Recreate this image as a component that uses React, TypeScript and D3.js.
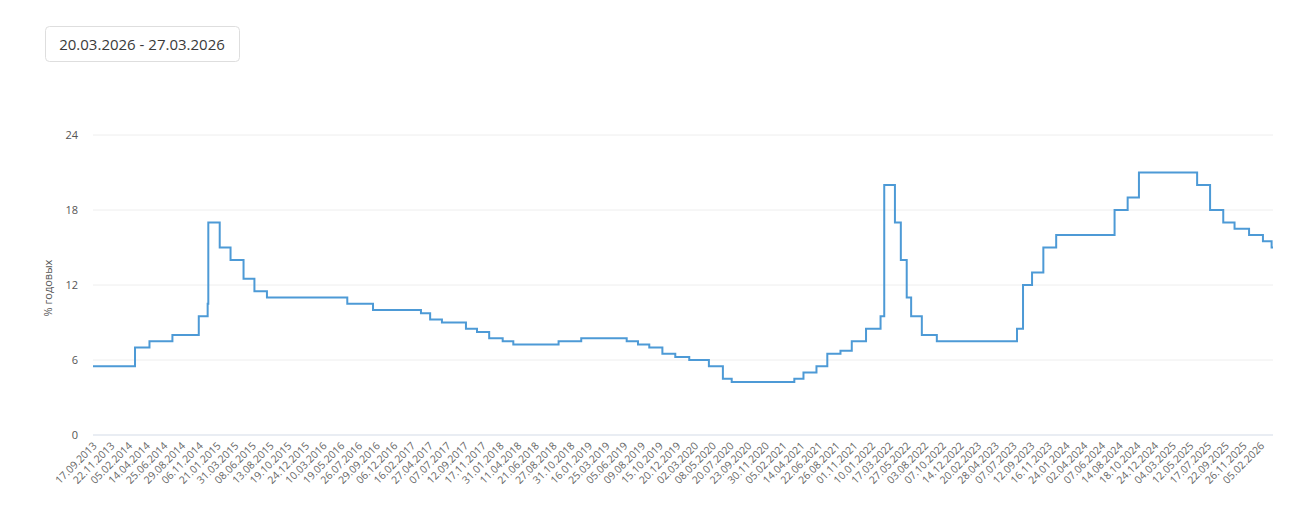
import React from "react";
import * as d3 from "d3";

// ---- Data ----
const rangeLabel = "20.03.2026 - 27.03.2026";
const yTitle = "% годовых";
const yTicks = [0, 6, 12, 18, 24];

const tickLabels = [
  "17.09.2013", "22.11.2013", "05.02.2014", "14.04.2014", "25.06.2014", "29.08.2014", "06.11.2014",
  "21.01.2015", "31.03.2015", "08.06.2015", "13.08.2015", "19.10.2015", "24.12.2015", "10.03.2016",
  "19.05.2016", "26.07.2016", "29.09.2016", "06.12.2016", "16.02.2017", "27.04.2017", "07.07.2017",
  "12.09.2017", "17.11.2017", "31.01.2018", "11.04.2018", "21.06.2018", "27.08.2018", "31.10.2018",
  "16.01.2019", "25.03.2019", "05.06.2019", "09.08.2019", "15.10.2019", "20.12.2019", "02.03.2020",
  "08.05.2020", "20.07.2020", "23.09.2020", "30.11.2020", "05.02.2021", "14.04.2021", "22.06.2021",
  "26.08.2021", "01.11.2021", "10.01.2022", "17.03.2022", "27.05.2022", "03.08.2022", "07.10.2022",
  "14.12.2022", "20.02.2023", "28.04.2023", "07.07.2023", "12.09.2023", "16.11.2023", "24.01.2024",
  "02.04.2024", "07.06.2024", "14.08.2024", "18.10.2024", "24.12.2024", "04.03.2025", "12.05.2025",
  "17.07.2025", "22.09.2025", "26.11.2025", "05.02.2026",
];

const changeDates = [
  "17.09.2013", "03.03.2014", "28.04.2014", "28.07.2014", "05.11.2014", "12.12.2014", "16.12.2014",
  "02.02.2015", "16.03.2015", "05.05.2015", "16.06.2015", "03.08.2015", "14.06.2016", "19.09.2016",
  "27.03.2017", "02.05.2017", "19.06.2017", "18.09.2017", "30.10.2017", "18.12.2017", "12.02.2018",
  "26.03.2018", "17.09.2018", "17.12.2018", "17.06.2019", "29.07.2019", "09.09.2019", "28.10.2019",
  "16.12.2019", "10.02.2020", "27.04.2020", "22.06.2020", "27.07.2020", "22.03.2021", "26.04.2021",
  "15.06.2021", "26.07.2021", "13.09.2021", "25.10.2021", "20.12.2021", "14.02.2022", "28.02.2022",
  "11.04.2022", "04.05.2022", "27.05.2022", "14.06.2022", "25.07.2022", "19.09.2022", "24.07.2023",
  "15.08.2023", "18.09.2023", "30.10.2023", "18.12.2023", "29.07.2024", "16.09.2024", "28.10.2024",
  "09.06.2025", "28.07.2025", "15.09.2025", "27.10.2025", "22.12.2025", "16.02.2026", "23.03.2026",
  "27.03.2026",
];

const rateValues = [
  5.5, 7.0, 7.5, 8.0, 9.5, 10.5, 17.0,
  15.0, 14.0, 12.5, 11.5, 11.0, 10.5, 10.0,
  9.75, 9.25, 9.0, 8.5, 8.25, 7.75, 7.5,
  7.25, 7.5, 7.75, 7.5, 7.25, 7.0, 6.5,
  6.25, 6.0, 5.5, 4.5, 4.25, 4.5, 5.0,
  5.5, 6.5, 6.75, 7.5, 8.5, 9.5, 20.0,
  17.0, 14.0, 11.0, 9.5, 8.0, 7.5, 8.5,
  12.0, 13.0, 15.0, 16.0, 18.0, 19.0, 21.0,
  20.0, 18.0, 17.0, 16.5, 16.0, 15.5, 15.0,
  15.0,
];

// ---- Layout ----
const W = 1304;
const H = 520;
const M = { left: 93, right: 31, top: 135, bottom: 85 };

const parse = d3.timeParse("%d.%m.%Y");
const startDate = parse(tickLabels[0]) as Date;
const endDate = parse(changeDates[changeDates.length - 1]) as Date;

function weekdays(a: Date, b: Date): number {
  return d3.timeDays(a, b).filter((d) => d.getDay() !== 0 && d.getDay() !== 6).length;
}

// business-day position -> category index (piecewise between labelled categories)
const tickDates = tickLabels.map((s) => parse(s) as Date);
const idxScale = d3
  .scaleLinear()
  .domain(tickDates.map((d) => weekdays(startDate, d)))
  .range(tickDates.map((_, i) => i));
const toIdx = (d: Date) => idxScale(weekdays(startDate, d));

const x = d3
  .scaleLinear()
  .domain([0, toIdx(endDate)])
  .range([M.left, W - M.right]);
const y = d3
  .scaleLinear()
  .domain([0, 24])
  .range([H - M.bottom, M.top]);

type Pt = { d: Date; v: number };
const points: Pt[] = changeDates.map((s, i) => ({ d: parse(s) as Date, v: rateValues[i] }));

const line = d3
  .line<Pt>()
  .x((p) => x(toIdx(p.d)))
  .y((p) => y(p.v))
  .curve(d3.curveStepAfter);

export default function App() {
  const font = "'Open Sans', 'Noto Sans', sans-serif";
  return (
    <div style={{ position: "absolute", left: 0, top: 0, width: W, height: H, background: "#fff" }}>
      <svg width={W} height={H} style={{ display: "block" }}>
        {/* date range box */}
        <rect x={45.5} y={26.5} width={194} height={35} rx={4} fill="#fff" stroke="#dedede" />
        <text x={142} y={49.5} textAnchor="middle" fontFamily={font} fontSize={15} fill="#3a3a3a">
          {rangeLabel}
        </text>

        {/* grid */}
        {yTicks.map((t) => (
          <line
            key={t}
            x1={M.left}
            x2={W - M.right}
            y1={y(t)}
            y2={y(t)}
            stroke={t === 0 ? "#e2e7ef" : "#eeeeee"}
            strokeWidth={t === 0 ? 1.5 : 1}
          />
        ))}
        {yTicks.map((t) => (
          <text
            key={"l" + t}
            x={M.left - 15}
            y={y(t)}
            dy="0.35em"
            textAnchor="end"
            fontFamily={font}
            fontSize={11}
            fill="#555"
          >
            {t}
          </text>
        ))}
        <text
          transform={`translate(${48},${(y(0) + y(24)) / 2 + 3}) rotate(-90)`}
          textAnchor="middle"
          dy="0.35em"
          fontFamily={font}
          fontSize={11}
          fill="#555"
        >
          {yTitle}
        </text>

        {/* x labels */}
        {tickLabels.map((s, i) => (
          <text
            key={s}
            transform={`translate(${x(i) + 2},${H - M.bottom + 9}) rotate(-45)`}
            textAnchor="end"
            dy="0.35em"
            fontFamily={font}
            fontSize={10.5}
            fill="#666"
          >
            {s}
          </text>
        ))}

        {/* series */}
        <path d={line(points) || ""} fill="none" stroke="#4d9ad6" strokeWidth={2} />
      </svg>
    </div>
  );
}
